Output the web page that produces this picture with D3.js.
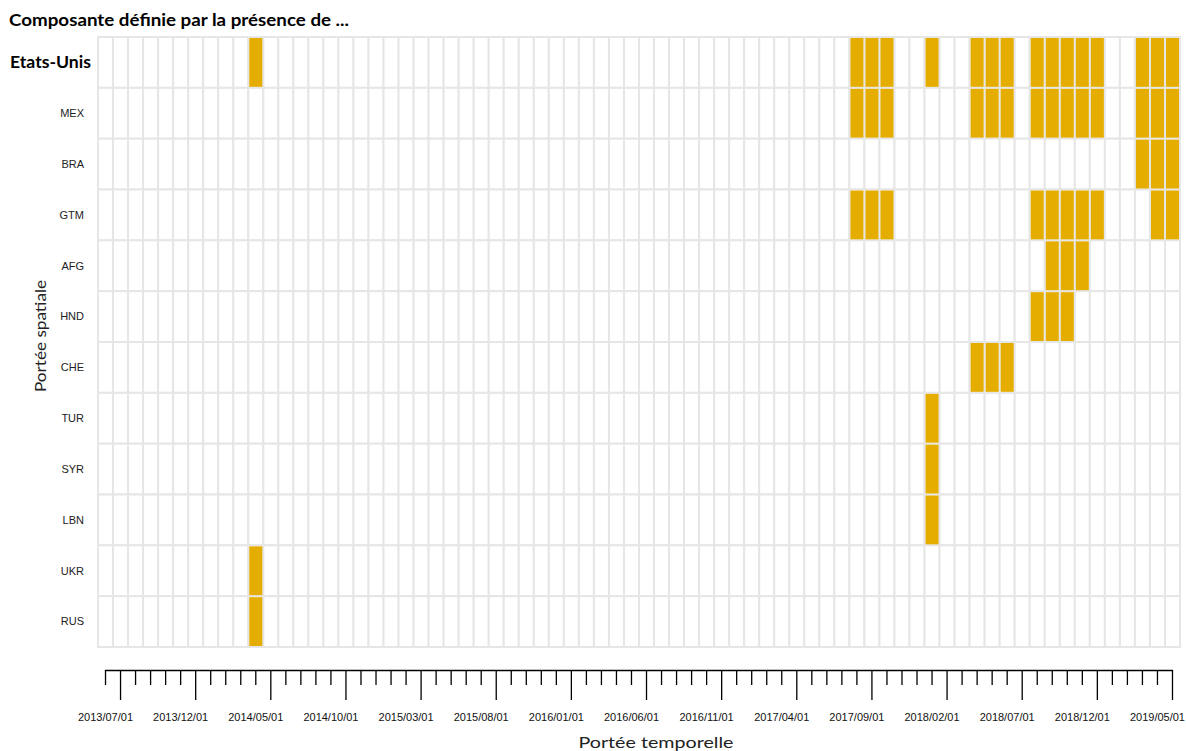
<!DOCTYPE html>
<html>
<head>
<meta charset="utf-8">
<script src="https://cdn.jsdelivr.net/npm/d3@7"></script>
<style>
  html, body { margin: 0; padding: 0; background: #fff; }
  svg { display: block; }
</style>
</head>
<body>
<svg id="chart" width="1186" height="751"></svg>
<script>
// ---- Data ----
const countries = ["Etats-Unis", "MEX", "BRA", "GTM", "AFG", "HND", "CHE", "TUR", "SYR", "LBN", "UKR", "RUS"];
const firstMonth = "2013/06";
const lastMonth = "2019/05";
const tickLabels = ["2013/07/01", "2013/12/01", "2014/05/01", "2014/10/01", "2015/03/01", "2015/08/01",
  "2016/01/01", "2016/06/01", "2016/11/01", "2017/04/01", "2017/09/01", "2018/02/01", "2018/07/01",
  "2018/12/01", "2019/05/01"];

const usaMonths = ["2014/04", "2017/08", "2017/09", "2017/10", "2018/01", "2018/04", "2018/05", "2018/06",
  "2018/08", "2018/09", "2018/10", "2018/11", "2018/12", "2019/03", "2019/04", "2019/05"];
const mexMonths = ["2017/08", "2017/09", "2017/10", "2018/04", "2018/05", "2018/06",
  "2018/08", "2018/09", "2018/10", "2018/11", "2018/12", "2019/03", "2019/04", "2019/05"];
const braMonths = ["2019/03", "2019/04", "2019/05"];
const gtmMonths = ["2017/08", "2017/09", "2017/10", "2018/08", "2018/09", "2018/10", "2018/11", "2018/12",
  "2019/04", "2019/05"];
const afgMonths = ["2018/09", "2018/10", "2018/11"];
const hndMonths = ["2018/08", "2018/09", "2018/10"];
const cheMonths = ["2018/04", "2018/05", "2018/06"];
const turMonths = ["2018/01"];
const syrMonths = ["2018/01"];
const lbnMonths = ["2018/01"];
const ukrMonths = ["2014/04"];
const rusMonths = ["2014/04"];

const presenceByCountry = {
  "Etats-Unis": usaMonths, MEX: mexMonths, BRA: braMonths, GTM: gtmMonths, AFG: afgMonths,
  HND: hndMonths, CHE: cheMonths, TUR: turMonths, SYR: syrMonths, LBN: lbnMonths,
  UKR: ukrMonths, RUS: rusMonths
};

// ---- Build month categories ----
const parseM = d3.timeParse("%Y/%m");
const fmtM = d3.timeFormat("%Y/%m");
const months = d3.timeMonth.range(parseM(firstMonth), d3.timeMonth.offset(parseM(lastMonth), 1)).map(fmtM);

const svg = d3.select("#chart");
const fill = "#E5AD00";
const gridColor = "#E6E6E6";

const x = d3.scaleBand().domain(months).range([98, 1180]).padding(0);
const y = d3.scaleBand().domain(countries).range([37, 647]).padding(0);
const bw = x.bandwidth(), bh = y.bandwidth();

// ---- Grid cells ----
const cells = [];
countries.forEach(c => months.forEach(m => cells.push({c, m})));
svg.append("g").selectAll("rect").data(cells).join("rect")
  .attr("x", d => x(d.m)).attr("y", d => y(d.c))
  .attr("width", bw).attr("height", bh)
  .attr("fill", "#fff").attr("stroke", gridColor).attr("stroke-width", 2);

const filled = [];
countries.forEach(c => presenceByCountry[c].forEach(m => filled.push({c, m})));
svg.append("g").selectAll("rect").data(filled).join("rect")
  .attr("x", d => x(d.m) + 1).attr("y", d => y(d.c) + 1)
  .attr("width", bw - 2).attr("height", bh - 2)
  .attr("fill", fill);

// ---- Row labels ----
const rowLabels = svg.append("g").selectAll("text").data(countries).join("text")
  .attr("x", d => d === "Etats-Unis" ? 91 : 84)
  .attr("y", d => y(d) + bh / 2)
  .attr("dy", "0.35em")
  .attr("text-anchor", "end")
  .attr("font-family", d => d === "Etats-Unis" ? "Lato, 'Open Sans', sans-serif" : "'Liberation Sans', Arial, sans-serif")
  .attr("font-weight", d => d === "Etats-Unis" ? "bold" : "normal")
  .attr("font-size", d => d === "Etats-Unis" ? 17 : 11)
  .attr("fill", d => d === "Etats-Unis" ? "#000" : "#222")
  .text(d => d);
rowLabels.filter(d => d === "Etats-Unis")
  .attr("textLength", 81).attr("lengthAdjust", "spacingAndGlyphs");

// ---- X axis ----
const mid = m => x(m) + bw / 2;
const tickLabelMonths = tickLabels.map(t => t.slice(0, 7));
const axisY = 670;
const axis = d3.axisBottom(x).tickValues(months).tickFormat("").tickSizeOuter(0).tickSize(15);
const ag = svg.append("g").attr("transform", `translate(0,${axisY})`).call(axis);
ag.select(".domain").remove();
ag.selectAll(".tick line")
  .attr("y2", d => tickLabelMonths.includes(d) ? 30 : 15)
  .attr("stroke", "#000").attr("stroke-width", 1.3);
ag.append("line")
  .attr("x1", mid(months[0]) - 0.6).attr("x2", mid(months[months.length - 1]) + 0.6)
  .attr("y1", 0.5).attr("y2", 0.5)
  .attr("stroke", "#000").attr("stroke-width", 1.3);

svg.append("g").selectAll("text").data(tickLabels).join("text")
  .attr("x", d => mid(d.slice(0, 7)) - x.step())
  .attr("y", 721)
  .attr("text-anchor", "middle")
  .attr("font-family", "'Liberation Sans', Arial, sans-serif")
  .attr("font-size", 11)
  .attr("fill", "#111")
  .text(d => d);

// ---- Titles ----
svg.append("text")
  .attr("x", 9).attr("y", 26)
  .attr("font-family", "Lato, 'Open Sans', sans-serif")
  .attr("font-weight", "bold").attr("font-size", 17)
  .attr("textLength", 340).attr("lengthAdjust", "spacingAndGlyphs")
  .text("Composante définie par la présence de ...");

svg.append("text")
  .attr("x", 656).attr("y", 748)
  .attr("text-anchor", "middle")
  .attr("font-family", "Lato, 'Open Sans', sans-serif")
  .attr("font-size", 16).attr("fill", "#222")
  .attr("textLength", 155).attr("lengthAdjust", "spacingAndGlyphs")
  .text("Portée temporelle");

svg.append("text")
  .attr("transform", "translate(46,336) rotate(-90)")
  .attr("text-anchor", "middle")
  .attr("font-family", "Lato, 'Open Sans', sans-serif")
  .attr("font-size", 16).attr("fill", "#222")
  .attr("textLength", 112).attr("lengthAdjust", "spacingAndGlyphs")
  .text("Portée spatiale");
</script>
</body>
</html>
